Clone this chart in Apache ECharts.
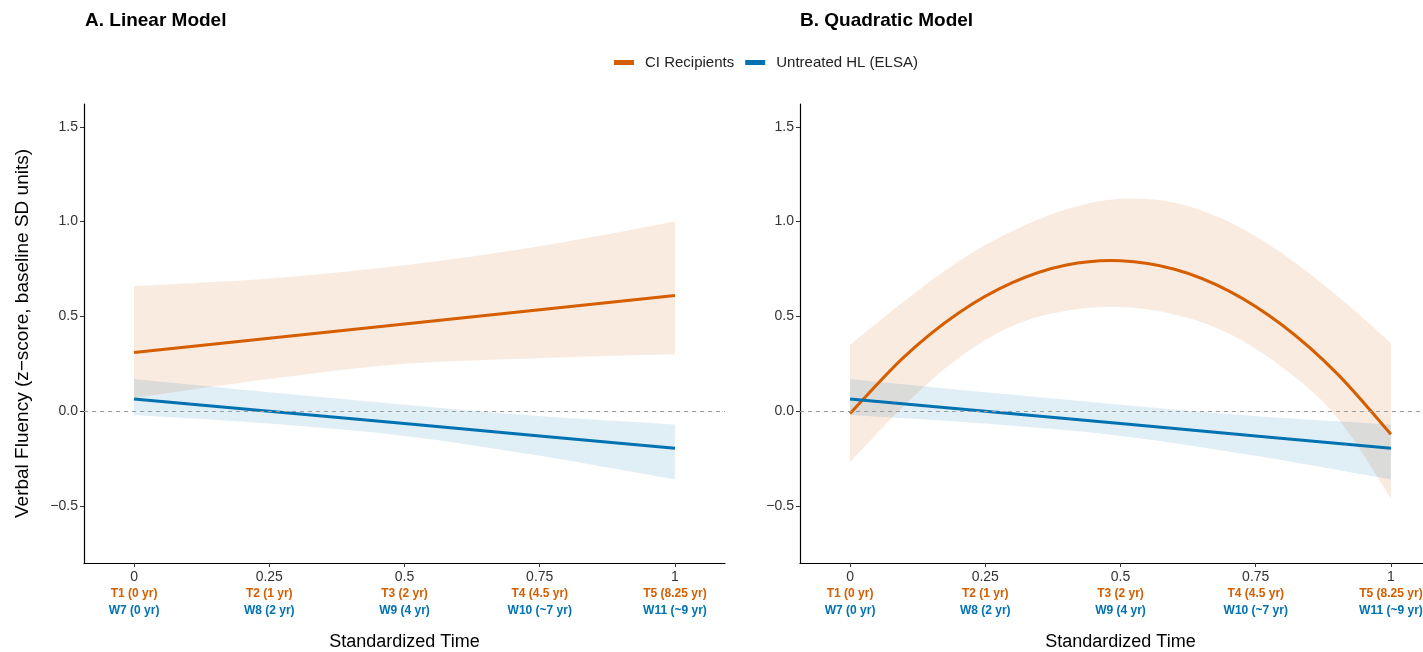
<!DOCTYPE html>
<html>
<head>
<meta charset="utf-8">
<script src="https://cdn.jsdelivr.net/npm/echarts@6/dist/echarts.min.js"></script>
<style>
html,body{margin:0;padding:0;background:#fff;}
#chart{width:1423px;height:652px;}
</style>
</head>
<body>
<div id="chart"></div>
<script>
// ---- Data ----
const xTime = [0, 0.25, 0.5, 0.75, 1];
const xTickValues = [0, 0.25, 0.5, 0.75, 1];
const xTickText = ['0', '0.25', '0.5', '0.75', '1'];
const ciWaveLabels = ['T1 (0 yr)', 'T2 (1 yr)', 'T3 (2 yr)', 'T4 (4.5 yr)', 'T5 (8.25 yr)'];
const elsaWaveLabels = ['W7 (0 yr)', 'W8 (2 yr)', 'W9 (4 yr)', 'W10 (~7 yr)', 'W11 (~9 yr)'];
const yTickValues = [-0.5, 0, 0.5, 1, 1.5];

// Panel A: linear model (CI recipients)
const linCiFit = [0.31, 0.385, 0.46, 0.535, 0.61];
const linCiUpper = [0.66, 0.70, 0.77, 0.87, 1.00];
const linCiLower = [0.07, 0.17, 0.25, 0.28, 0.30];

// ELSA (linear in both panels)
const elsaFit = [0.065, 0.0, -0.065, -0.13, -0.195];
const elsaUpper = [0.17, 0.10, 0.035, -0.025, -0.07];
const elsaLower = [-0.02, -0.065, -0.13, -0.235, -0.36];

// Panel B: quadratic model (CI recipients)
const xQuad = [0, 0.1, 0.2, 0.3, 0.4, 0.5, 0.6, 0.7, 0.8, 0.9, 1];
const quadCiFit = [-0.012, 0.287, 0.517, 0.678, 0.771, 0.794, 0.749, 0.635, 0.452, 0.200, -0.121];
const quadCiUpper = [0.35, 0.58, 0.79, 0.95, 1.065, 1.12, 1.10, 1.00, 0.83, 0.61, 0.36];
const quadCiLower = [-0.27, 0.03, 0.28, 0.45, 0.53, 0.55, 0.51, 0.41, 0.23, -0.03, -0.46];

// ---- Styles ----
const ORANGE = '#D55E00';
const BLUE = '#0072B2';
const FONT = '"Liberation Sans", Arial, Helvetica, sans-serif';

function pairs(xs, ys) { return xs.map((x, i) => [x, ys[i]]); }

// Catmull-Rom smoothed path segments through pixel points (drawing only)
function splineSegs(pts) {
  let d = '';
  for (let i = 0; i < pts.length - 1; i++) {
    const p0 = pts[i - 1] || pts[i], p1 = pts[i], p2 = pts[i + 1], p3 = pts[i + 2] || pts[i + 1];
    const c1x = p1[0] + (p2[0] - p0[0]) / 6, c1y = p1[1] + (p2[1] - p0[1]) / 6;
    const c2x = p2[0] - (p3[0] - p1[0]) / 6, c2y = p2[1] - (p3[1] - p1[1]) / 6;
    d += ' C' + c1x + ' ' + c1y + ' ' + c2x + ' ' + c2y + ' ' + p2[0] + ' ' + p2[1];
  }
  return d;
}

function bandSeries(name, gridIdx, xs, up, lo, fill) {
  return {
    name: name, type: 'custom', xAxisIndex: gridIdx, yAxisIndex: gridIdx,
    data: xs.map((x, i) => [x, up[i], lo[i]]),
    encode: { x: 0, y: [1, 2] }, silent: true, z: 1,
    renderItem: function (params, api) {
      if (params.dataIndex !== 0) return null;
      const u = xs.map((x, i) => api.coord([x, up[i]]));
      const l = xs.map((x, i) => api.coord([x, lo[i]])).reverse();
      const d = 'M' + u[0][0] + ' ' + u[0][1] + splineSegs(u) +
        ' L' + l[0][0] + ' ' + l[0][1] + splineSegs(l) + ' Z';
      return { type: 'path', shape: { pathData: d }, style: { fill: fill, stroke: null } };
    }
  };
}

function curveSeries(name, gridIdx, xs, ys, color) {
  return {
    name: name, type: 'custom', xAxisIndex: gridIdx, yAxisIndex: gridIdx,
    data: pairs(xs, ys), encode: { x: 0, y: 1 }, z: 3,
    itemStyle: { color: color },
    renderItem: function (params, api) {
      if (params.dataIndex !== 0) return null;
      const p = xs.map((x, i) => api.coord([x, ys[i]]));
      const d = 'M' + p[0][0] + ' ' + p[0][1] + splineSegs(p);
      return { type: 'path', shape: { pathData: d },
        style: { fill: null, stroke: color, lineWidth: 3 } };
    }
  };
}

const zeroLine = {
  silent: true, symbol: ['none', 'none'], label: { show: false },
  lineStyle: { type: [4, 4], color: '#9e9e9e', width: 1 },
  data: [{ yAxis: 0 }], animation: false
};

function fitSeries(name, gridIdx, xs, ys, color, withZero) {
  const s = {
    name: name, type: 'line', xAxisIndex: gridIdx, yAxisIndex: gridIdx,
    data: pairs(xs, ys), showSymbol: false, smooth: false,
    lineStyle: { color: color, width: 3, cap: 'butt' }, itemStyle: { color: color }, z: 3
  };
  if (withZero) s.markLine = zeroLine;
  return s;
}

function xAxisDef(gridIdx) {
  return {
    type: 'value', gridIndex: gridIdx, min: -0.0925, max: 1.0925,
    name: 'Standardized Time', nameLocation: 'middle', nameGap: 70,
    nameTextStyle: { fontSize: 18, color: '#000', fontFamily: FONT },
    splitLine: { show: false },
    axisLine: { onZero: false, lineStyle: { color: '#000', width: 1.2 } },
    axisTick: { show: true, customValues: xTickValues, length: 4, lineStyle: { color: '#333' } },
    axisLabel: {
      customValues: xTickValues, margin: 7, fontFamily: FONT,
      formatter: function (v) {
        const i = xTickValues.findIndex(t => Math.abs(t - v) < 1e-9);
        if (i < 0) return '';
        return '{v|' + xTickText[i] + '}\n{t|' + ciWaveLabels[i] + '}\n{w|' + elsaWaveLabels[i] + '}';
      },
      rich: {
        v: { fontSize: 14, color: '#333', lineHeight: 15, fontFamily: FONT },
        t: { fontSize: 12, color: ORANGE, fontWeight: 'bold', lineHeight: 17, fontFamily: FONT },
        w: { fontSize: 12, color: BLUE, fontWeight: 'bold', lineHeight: 17, fontFamily: FONT }
      }
    }
  };
}

function yAxisDef(gridIdx, withName) {
  const ax = {
    type: 'value', gridIndex: gridIdx, min: -0.8, max: 1.62,
    splitLine: { show: false },
    axisLine: { show: true, onZero: false, lineStyle: { color: '#000', width: 1.2 } },
    axisTick: { show: true, customValues: yTickValues, length: 4, lineStyle: { color: '#333' } },
    axisLabel: {
      customValues: yTickValues, margin: 6, fontSize: 14, color: '#333', fontFamily: FONT,
      formatter: v => v.toFixed(1).replace('-', '\u2212')
    }
  };
  if (withName) {
    ax.name = 'Verbal Fluency (z\u2212score, baseline SD units)';
    ax.nameLocation = 'middle';
    ax.nameGap = 52;
    ax.nameTextStyle = { fontSize: 19, color: '#000', fontFamily: FONT };
  }
  return ax;
}

const series = [
  bandSeries('a_ci_band', 0, xTime, linCiUpper, linCiLower, 'rgba(213,94,0,0.12)'),
  bandSeries('a_elsa_band', 0, xTime, elsaUpper, elsaLower, 'rgba(0,114,178,0.12)'),
  bandSeries('b_ci_band', 1, xQuad, quadCiUpper, quadCiLower, 'rgba(213,94,0,0.12)'),
  bandSeries('b_elsa_band', 1, xTime, elsaUpper, elsaLower, 'rgba(0,114,178,0.12)'),
  fitSeries('CI Recipients', 0, xTime, linCiFit, ORANGE, true),
  fitSeries('Untreated HL (ELSA)', 0, xTime, elsaFit, BLUE, false),
  curveSeries('CI Recipients', 1, xQuad, quadCiFit, ORANGE),
  fitSeries('Untreated HL (ELSA)', 1, xTime, elsaFit, BLUE, true)
];

const chart = echarts.init(document.getElementById('chart'), null, { renderer: 'canvas' });
chart.setOption({
  animation: false,
  backgroundColor: '#fff',
  title: [
    { text: 'A. Linear Model', left: 85, top: 11, padding: 0,
      textStyle: { fontSize: 19, fontWeight: 'bold', color: '#000', fontFamily: FONT } },
    { text: 'B. Quadratic Model', left: 800, top: 11, padding: 0,
      textStyle: { fontSize: 19, fontWeight: 'bold', color: '#000', fontFamily: FONT } }
  ],
  legend: {
    data: ['CI Recipients', 'Untreated HL (ELSA)'],
    left: 614, top: 55, icon: 'rect', itemWidth: 20, itemHeight: 5, itemGap: 11, padding: 0,
    textStyle: { fontSize: 15, color: '#222', fontFamily: FONT, padding: [0, 0, 0, 6] }
  },
  grid: [
    { left: 84, top: 104, width: 641, bottom: 89, containLabel: false, outerBoundsMode: 'none' },
    { left: 800, top: 104, width: 641, bottom: 89, containLabel: false, outerBoundsMode: 'none' }
  ],
  xAxis: [xAxisDef(0), xAxisDef(1)],
  yAxis: [yAxisDef(0, true), yAxisDef(1, false)],
  series: series
});
</script>
</body>
</html>
